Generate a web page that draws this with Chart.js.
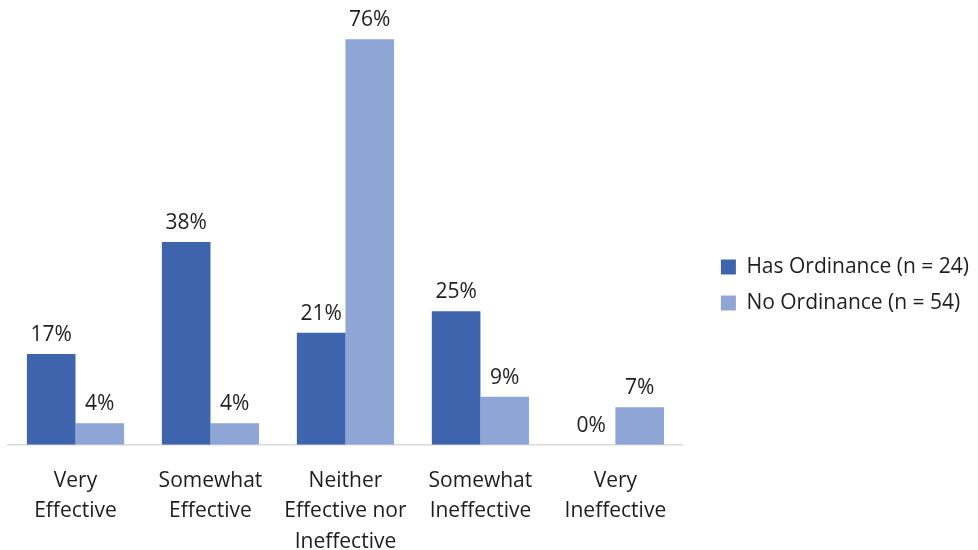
<!DOCTYPE html>
<html>
<head>
<meta charset="utf-8">
<script src="https://cdn.jsdelivr.net/npm/chart.js@4/dist/chart.umd.min.js"></script>
<style>
  html, body { margin: 0; padding: 0; background: #fff; }
  #wrap { width: 978px; height: 550px; position: relative; }
</style>
</head>
<body>
<div id="wrap"><canvas id="chart"></canvas></div>
<script>
const categories = [
  ["Very", "Effective"],
  ["Somewhat", "Effective"],
  ["Neither", "Effective nor", "Ineffective"],
  ["Somewhat", "Ineffective"],
  ["Very", "Ineffective"]
];
const seriesNames = ["Has Ordinance (n = 24)", "No Ordinance (n = 54)"];
const hasOrdinance = [17, 38, 21, 25, 0];
const noOrdinance = [4, 4, 76, 9, 7];

const FONT = "'Open Sans', Lato, sans-serif";

// draw the % labels above each bar
const valueLabels = {
  id: "valueLabels",
  afterDatasetsDraw(chart) {
    const ctx = chart.ctx;
    ctx.save();
    ctx.font = "21px " + FONT;
    ctx.fillStyle = "#1e1e1e";
    ctx.textAlign = "center";
    ctx.textBaseline = "alphabetic";
    chart.data.datasets.forEach((ds, i) => {
      chart.getDatasetMeta(i).data.forEach((bar, j) => {
        ctx.fillText(ds.data[j] + "%", bar.x, bar.y - 13);
      });
    });
    ctx.restore();
  }
};

// nudge the legend a little, the reference sits it above the middle
const legendNudge = {
  id: "legendNudge",
  afterLayout(chart) {
    const lg = chart.legend;
    if (!lg) return;
    lg.top -= 9;
    lg.bottom -= 9;
    lg.left += 3;
    lg.right += 3;
  }
};

function drawChart() {
  new Chart(document.getElementById("chart").getContext("2d"), {
    type: "bar",
    data: {
      labels: categories,
      datasets: [
        { label: seriesNames[0], data: hasOrdinance, backgroundColor: "#3d64ad" },
        { label: seriesNames[1], data: noOrdinance, backgroundColor: "#8fa5d6" }
      ]
    },
    options: {
      responsive: true,
      maintainAspectRatio: false,
      animation: false,
      layout: { padding: { left: 8, top: 18, right: 2, bottom: -20 } },
      datasets: { bar: { categoryPercentage: 0.72, barPercentage: 1.0 } },
      scales: {
        y: { display: false, min: 0, max: 80 },
        // empty spacer between the bars and the legend
        gap: {
          type: "linear",
          position: "right",
          display: true,
          grid: { display: false },
          border: { display: false },
          ticks: { display: false },
          afterFit(axis) { axis.width = 20; }
        },
        x: {
          grid: { display: false },
          border: { color: "#d9d9d9", width: 1.5 },
          ticks: {
            color: "#1e1e1e",
            font: { family: FONT, size: 21, lineHeight: 1.45 },
            padding: 13,
            maxRotation: 0,
            autoSkip: false
          }
        }
      },
      plugins: {
        legend: {
          position: "right",
          maxWidth: 300,
          labels: {
            color: "#1e1e1e",
            font: { family: FONT, size: 21 },
            boxWidth: 15,
            boxHeight: 15,
            padding: 15
          }
        },
        tooltip: { enabled: false }
      }
    },
    plugins: [valueLabels, legendNudge]
  });
}

document.fonts.load("21px 'Open Sans'").then(drawChart, drawChart);
</script>
</body>
</html>
